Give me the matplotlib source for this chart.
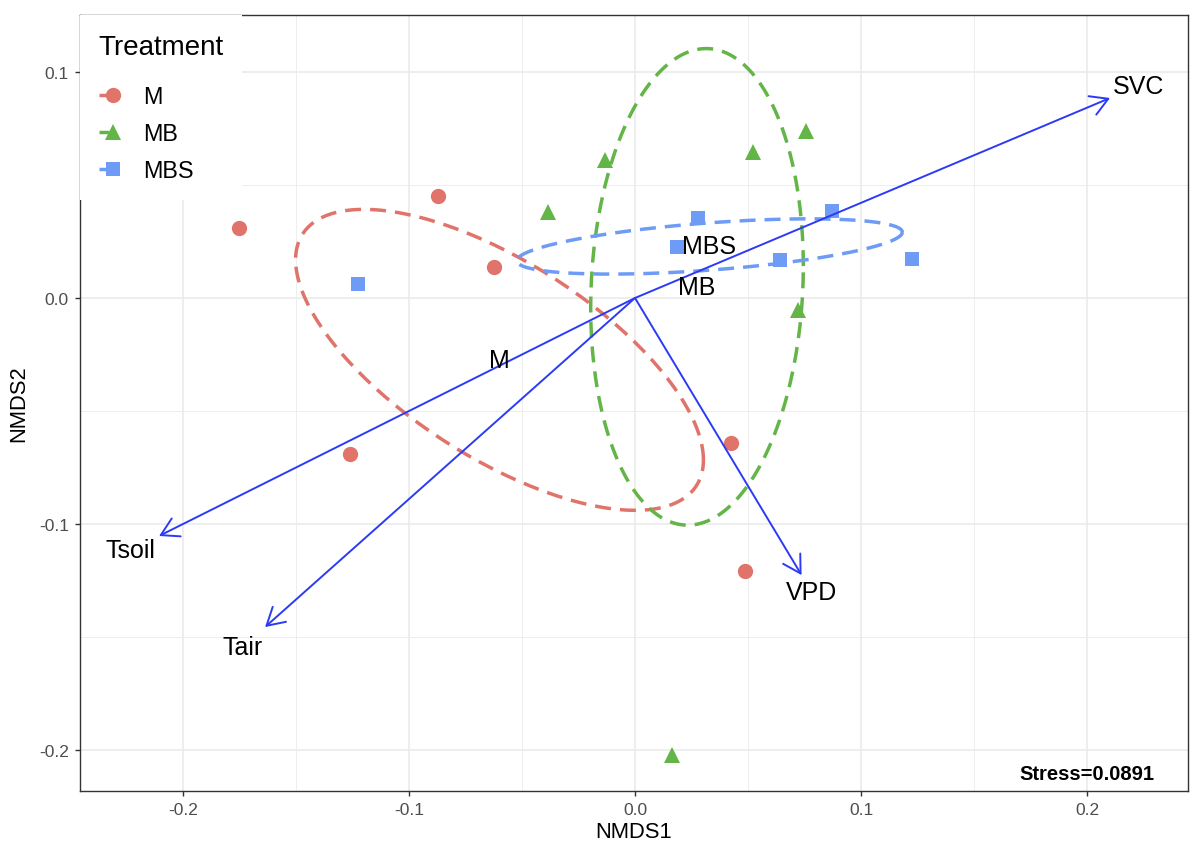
import numpy as np
import matplotlib
matplotlib.use('Agg')
import matplotlib.pyplot as plt
from matplotlib.lines import Line2D
from matplotlib.ticker import MultipleLocator

plt.rcParams['font.family'] = ['Liberation Sans', 'DejaVu Sans']
plt.rcParams['lines.scale_dashes'] = False

# ---- data ----
groups = ['M', 'MB', 'MBS']
m_x = [-0.1752, -0.0872, -0.0624, -0.1261, 0.0425, 0.0487]
m_y = [0.0310, 0.0451, 0.0137, -0.0690, -0.0642, -0.1208]
mb_x = [-0.0385, -0.0133, 0.0522, 0.0757, 0.0721, 0.0164]
mb_y = [0.0380, 0.0610, 0.0645, 0.0738, -0.0054, -0.2023]
mbs_x = [-0.1226, 0.0279, 0.0186, 0.0642, 0.0872, 0.1226]
mbs_y = [0.0062, 0.0354, 0.0226, 0.0168, 0.0385, 0.0173]

env_names = ['SVC', 'Tsoil', 'Tair', 'VPD']
env_x = [0.2102, -0.2106, -0.1637, 0.0737]
env_y = [0.0885, -0.1053, -0.1456, -0.1226]

stress_label = 'Stress=0.0891'

colors = ['#E0736A', '#64B548', '#6D9BF5']
markers = ['o', '^', 's']
msizes = [11, 12, 10.5]
arrow_col = '#2B3BF5'

xs = [m_x, mb_x, mbs_x]
ys = [m_y, mb_y, mbs_y]

# ---- figure ----
fig = plt.figure(figsize=(12, 8.62), dpi=100)
ax = fig.add_axes([80/1200, 70/862, 1108/1200, 776/862])

ax.set_xlim(-0.24558, 0.24469)
ax.set_ylim(-0.21814, 0.12522)

ax.xaxis.set_major_locator(MultipleLocator(0.1))
ax.yaxis.set_major_locator(MultipleLocator(0.1))
ax.xaxis.set_minor_locator(MultipleLocator(0.05))
ax.yaxis.set_minor_locator(MultipleLocator(0.05))
ax.grid(which='major', color='#EBEBEB', lw=1.2, zorder=0)
ax.grid(which='minor', color='#EBEBEB', lw=0.6, zorder=0)
ax.set_axisbelow(True)
ax.tick_params(which='minor', length=0)
ax.tick_params(which='major', length=3.5, width=1.0, color='#333333',
               labelsize=12.5, labelcolor='#4D4D4D', pad=4.5)
for s in ax.spines.values():
    s.set_color('#333333')
    s.set_linewidth(1.0)

def fmt(v):
    if abs(v) < 1e-9:
        return '0.0'
    return ('%.1f' % v)
ax.set_xticks([-0.2, -0.1, 0.0, 0.1, 0.2])
ax.set_xticklabels([fmt(v) for v in [-0.2, -0.1, 0.0, 0.1, 0.2]])
ax.set_yticks([-0.2, -0.1, 0.0, 0.1])
ax.set_yticklabels([fmt(v) for v in [-0.2, -0.1, 0.0, 0.1]])

ax.set_xlabel('NMDS1', fontsize=15.8, labelpad=3)
ax.set_ylabel('NMDS2', fontsize=15.8, labelpad=7)

# ellipses (1 sd)
def sd_ellipse(x, y, n=201):
    xy = np.column_stack([x, y])
    c = xy.mean(axis=0)
    cov = np.cov(xy.T)
    U = np.linalg.cholesky(cov).T
    t = np.linspace(0, 2*np.pi, n)
    circ = np.column_stack([np.cos(t), np.sin(t)])
    return c + circ @ U

for gx, gy, col in zip(xs, ys, colors):
    e = sd_ellipse(gx, gy)
    ax.plot(e[:, 0], e[:, 1], color=col, lw=2.5, linestyle=(0, (11.5, 6.5)), zorder=2)

# points
for gx, gy, col, mk, ms in zip(xs, ys, colors, markers, msizes):
    ax.plot(gx, gy, linestyle='none', marker=mk, ms=ms, color=col,
            markeredgewidth=0, zorder=3)

# env arrows
for name, ex, ey in zip(env_names, env_x, env_y):
    ax.annotate('', xy=(ex, ey), xytext=(0, 0),
                arrowprops=dict(arrowstyle='->,head_length=0.62,head_width=0.36',
                                color=arrow_col, lw=1.4, shrinkA=0, shrinkB=0,
                                mutation_scale=20), zorder=4)
    ax.text(ex*1.06, ey*1.06, name, fontsize=18, ha='center', va='center', zorder=5)

# group labels at centroids
for g, gx, gy in zip(groups, xs, ys):
    ax.text(np.mean(gx), np.mean(gy), g, fontsize=18, ha='center', va='center', zorder=5)

ax.text(0.2, -0.2105, stress_label, fontsize=14.5, fontweight='bold',
        ha='center', va='center', zorder=5)

# legend
handles = [Line2D([0], [0], color=c, lw=2.5, linestyle=(0, (7, 40)), marker=mk,
                  ms=ms, markeredgewidth=0)
           for c, mk, ms in zip(colors, markers, msizes)]
leg = ax.legend(handles, groups, title='Treatment', loc='upper left',
                bbox_to_anchor=(0, 1), borderaxespad=0, frameon=True,
                fancybox=False, framealpha=1, edgecolor='none',
                fontsize=16.8, title_fontsize=20, handlelength=1.27,
                handletextpad=0.62, labelspacing=0.6, borderpad=0.8,
                alignment='left')
leg._legend_box.sep = 18
leg.set_zorder(10)

fig.savefig('out.png', dpi=100)
